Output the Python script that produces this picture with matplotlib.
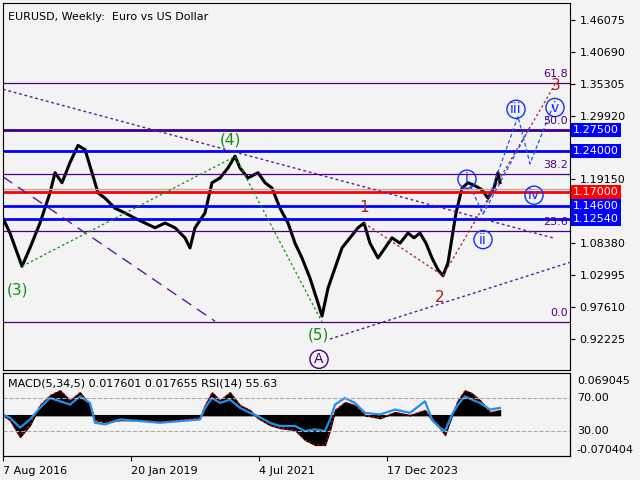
import matplotlib.pyplot as plt
import matplotlib.transforms as mtransforms

# weekly closes (x = weeks since 7 Aug 2016, price)
px_weeks = [0, 7, 19, 27, 37, 47, 52, 59, 67, 75, 82, 89, 95, 102, 112, 122, 132, 142, 152, 162,
            172, 182, 187, 192, 202, 209, 217, 225, 232, 237, 245, 255, 262, 269, 277, 285, 292, 299,
            307, 315, 319, 325, 332, 339, 347, 355, 361, 367, 375, 382, 389, 397, 405, 411, 417, 423,
            429, 435, 440, 445, 449, 453, 459, 465, 472, 479, 485, 491, 495, 497]
px_close = [1.126, 1.101, 1.045, 1.076, 1.118, 1.169, 1.203, 1.186, 1.220, 1.249, 1.242, 1.203, 1.169,
            1.160, 1.143, 1.135, 1.126, 1.118, 1.110, 1.118, 1.110, 1.093, 1.076, 1.110, 1.135, 1.186,
            1.194, 1.211, 1.231, 1.211, 1.194, 1.203, 1.186, 1.177, 1.143, 1.118, 1.084, 1.059, 1.025,
            0.983, 0.961, 1.008, 1.042, 1.076, 1.093, 1.110, 1.118, 1.084, 1.059, 1.076, 1.093, 1.084,
            1.101, 1.093, 1.101, 1.084, 1.059, 1.039, 1.029, 1.051, 1.093, 1.135, 1.177, 1.186, 1.181,
            1.174, 1.160, 1.177, 1.203, 1.186]

macd_weeks = [0, 7, 17, 27, 37, 47, 57, 67, 77, 87, 92, 102, 117, 137, 157, 177, 197, 202, 209, 217,
              227, 237, 247, 255, 267, 277, 292, 302, 312, 322, 327, 332, 342, 352, 362, 377, 392, 407,
              422, 429, 437, 442, 449, 455, 462, 469, 477, 487, 497]
macd_hist = [0.0, -0.010, -0.044, -0.020, 0.020, 0.040, 0.050, 0.030, 0.046, 0.020, -0.010, -0.014,
             -0.010, -0.010, -0.014, -0.010, -0.006, 0.020, 0.046, 0.030, 0.046, 0.020, 0.010, -0.006,
             -0.020, -0.026, -0.030, -0.050, -0.060, -0.060, -0.030, 0.010, 0.026, 0.020, 0.0, -0.006,
             0.006, 0.0, 0.010, -0.010, -0.026, -0.040, 0.0, 0.030, 0.050, 0.044, 0.030, 0.006, 0.010]
rsi_vals = [50, 46, 34, 44, 58, 70, 66, 62, 72, 64, 40, 38, 44, 42, 40, 42, 44, 58, 70, 64, 68, 58, 52,
            48, 40, 36, 36, 30, 32, 30, 44, 62, 70, 64, 52, 50, 56, 52, 66, 44, 34, 30, 50, 62, 72, 68,
            64, 56, 58]

levels = [1.2750, 1.2400, 1.1700, 1.1460, 1.1254]
level_colors = ['#3c0096', '#0000ff', '#ff0000', '#0000ff', '#0000ff']
fib_pct = ['61.8', '50.0', '38.2', '23.6', '0.0']
fib_prices = [1.3544, 1.2750, 1.2008, 1.1046, 0.9510]
price_ticks = [1.46075, 1.40690, 1.35305, 1.29920, 1.19150, 1.08380, 1.02995, 0.97610, 0.92225]
date_ticks = [0, 128, 256, 384]
date_labels = ['7 Aug 2016', '20 Jan 2019', '4 Jul 2021', '17 Dec 2023']

bg = '#f3f3f3'
fig = plt.figure(figsize=(6.4, 4.8), dpi=100, facecolor=bg)
ax = fig.add_axes([3/640, 1-370/480, 567/640, 367/480], facecolor=bg)
ax2 = fig.add_axes([3/640, 1-456/480, 567/640, 83/480], facecolor=bg)

ax.set_xlim(0, 567)
ax.set_ylim(0.8699, 1.4894)
ax.plot(px_weeks, px_close, color='black', lw=2.2)

for p in fib_prices:
    ax.axhline(p, color='#4b0082', lw=0.9)
for p, c in zip(levels, level_colors):
    ax.axhline(p, color=c, lw=2)
ax.axhline(1.175, color='#b0b0b0', lw=1)

# trend lines
ax.plot([0, 552], [1.3437, 1.0920], color='#5a1aa0', ls=(0, (2, 2)), lw=1)
ax.plot([327, 567], [0.9222, 1.0516], color='#5a1aa0', ls=(0, (2, 2)), lw=1)
ax.plot([0, 212], [1.1960, 0.9522], color='#5a1aa0', ls=(0, (8, 5)), lw=1)
ax.plot([19, 232, 319], [1.045, 1.2303, 0.951], color='#109010', ls=(0, (2, 2)), lw=0.9)
ax.plot([361, 440, 552], [1.118, 1.029, 1.352], color='#b02020', ls=(0, (2, 2)), lw=0.9)
ax.plot([467, 480, 515, 527, 552], [1.181, 1.133, 1.298, 1.218, 1.324],
        color='#2050ff', ls=(0, (3, 2)), lw=0.9)
ax.plot([480, 527], [1.133, 1.280], color='#2050ff', ls=(0, (3, 2)), lw=0.9)

lbls = [('(3)', 15, 1.005, '#109010'), ('(4)', 227, 1.258, '#109010'), ('(5)', 315, 0.929, '#109010'),
        ('1', 361, 1.145, '#b02020'), ('2', 437, 0.993, '#b02020'), ('3', 553, 1.350, '#b02020')]
for t, x, y, c in lbls:
    ax.text(x, y, t, color=c, fontsize=11, ha='center', va='center')
circ = [('i', 464, 1.192, '#1030ff'), ('ii', 480, 1.090, '#1030ff'), ('iii', 513, 1.310, '#1030ff'),
        ('iv', 531, 1.165, '#1030ff'), ('v', 552, 1.313, '#1030ff'), ('A', 316, 0.888, '#4b0082')]
for t, x, y, c in circ:
    ax.text(x, y, t, color=c, fontsize=10, ha='center', va='center',
            bbox=dict(boxstyle='circle,pad=0.15', fc='none', ec=c, lw=1))
for t, p in zip(fib_pct, fib_prices):
    ax.text(565, p + 0.006, t, color='#4b0082', fontsize=8, ha='right', va='bottom')

ax.text(5, 1.475, 'EURUSD, Weekly:  Euro vs US Dollar', fontsize=8, va='top')

ax.yaxis.tick_right()
ax.set_yticks(price_ticks)
ax.set_yticklabels([f'{v:.5f}' for v in price_ticks], fontsize=8)
ax.set_xticks([])
trans = mtransforms.blended_transform_factory(ax.transAxes, ax.transData)
for p, c in zip(levels, level_colors):
    bc = '#0000ff' if c == '#3c0096' else c
    ax.text(1.005, p, f'{p:.5f}', transform=trans, color='white', fontsize=8, va='center',
            bbox=dict(boxstyle='square,pad=0.2', fc=bc, ec='none'))

ax2.set_xlim(0, 567)
ax2.set_ylim(-0.0825, 0.0852)
ax2.fill_between(macd_weeks, macd_hist, 0, color='black')
ax2.plot(macd_weeks, macd_hist, color='red', ls=(0, (2, 2)), lw=0.8)
ax2.set_xticks(date_ticks)
ax2.set_xticklabels(date_labels, fontsize=8, ha='left')
ax2.text(5, 0.075, 'MACD(5,34,5) 0.017601 0.017655 RSI(14) 55.63', fontsize=8, va='top')
r = ax2.twinx()
r.set_ylim(-0.3, 100.3)
r.plot(macd_weeks, rsi_vals, color='#2090f0', lw=1.6)
r.axhline(70, color='#aaaaaa', ls='--', lw=0.8)
r.axhline(30, color='#aaaaaa', ls='--', lw=0.8)
r.set_yticks([])
# all indicator scale labels on the right side
for v, t in [(0.069045, '0.069045'), (-0.070404, '-0.070404')]:
    ax2.text(1.012, v, t, transform=mtransforms.blended_transform_factory(ax2.transAxes, ax2.transData),
             fontsize=8, va='center')
for v in [70, 30]:
    r.text(1.012, v, f'{v:.2f}', transform=mtransforms.blended_transform_factory(r.transAxes, r.transData),
           fontsize=8, va='center')
ax2.set_yticks([])

fig.savefig('out.png', dpi=100, facecolor=bg)
